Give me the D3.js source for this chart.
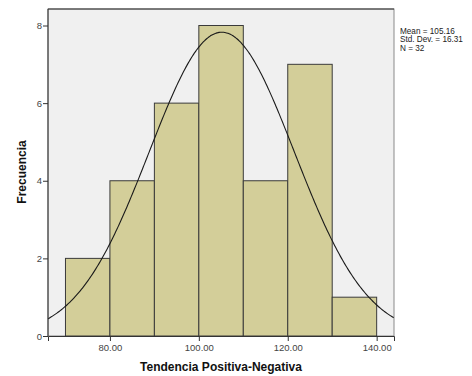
<!DOCTYPE html>
<html>
<head>
<meta charset="utf-8">
<script src="https://cdn.jsdelivr.net/npm/d3@7"></script>
<style>
  html, body { margin: 0; padding: 0; background: #ffffff; }
  svg { display: block; font-family: "Liberation Sans", Arial, sans-serif; }
</style>
</head>
<body>
<svg id="chart" width="472" height="376"></svg>
<script>
// Histogram bins (lower edge, upper edge) and counts
const binStarts = [70, 80, 90, 100, 110, 120, 130];
const binEnds = [80, 90, 100, 110, 120, 130, 140];
const counts = [2, 4, 6, 8, 4, 7, 1];

// Axis ticks
const xTicks = [80, 100, 120, 140];
const yTicks = [0, 2, 4, 6, 8];

// Summary statistics for the fitted normal curve
const statMean = 105.16;
const statSD = 16.31;
const statN = 32;
const binWidth = 10;

const svg = d3.select("#chart");
const plot = { left: 48, top: 9, right: 394, bottom: 336 };

const x = d3.scaleLinear().domain([66.07, 143.9]).range([plot.left, plot.right]);
const y = d3.scaleLinear().domain([0, 8]).range([plot.bottom, 25.5]);

// Plot background with light frame
svg.append("rect")
  .attr("x", plot.left).attr("y", plot.top)
  .attr("width", plot.right - plot.left).attr("height", plot.bottom - plot.top)
  .attr("fill", "#f0f0f0").attr("stroke", "#8a8a8a").attr("stroke-width", 1);
// Darker top edge of the frame
svg.append("line")
  .attr("x1", plot.left).attr("x2", plot.right)
  .attr("y1", plot.top).attr("y2", plot.top)
  .attr("stroke", "#333333").attr("stroke-width", 1);

// Bars
const bins = binStarts.map((s, i) => ({ x0: s, x1: binEnds[i], n: counts[i] }));
svg.append("g").selectAll("rect").data(bins).join("rect")
  .attr("x", d => x(d.x0))
  .attr("y", d => y(d.n))
  .attr("width", d => x(d.x1) - x(d.x0))
  .attr("height", d => y(0) - y(d.n))
  .attr("fill", "#d3ce99")
  .attr("stroke", "#3a3a3a")
  .attr("stroke-width", 1);

// Normal curve scaled to counts
const scale = statN * binWidth / (statSD * Math.sqrt(2 * Math.PI));
const curvePts = d3.range(x.domain()[0], x.domain()[1] + 0.01, 0.25)
  .map(v => [v, scale * Math.exp(-0.5 * Math.pow((v - statMean) / statSD, 2))]);
svg.append("path")
  .datum(curvePts)
  .attr("fill", "none")
  .attr("stroke", "#1a1a1a")
  .attr("stroke-width", 1.1)
  .attr("d", d3.line().x(d => x(d[0])).y(d => y(d[1])).curve(d3.curveBasis));

// Axes
const xAxis = svg.append("g")
  .attr("transform", `translate(0,${plot.bottom})`)
  .call(d3.axisBottom(x).tickValues(xTicks).tickFormat(d3.format(".2f")).tickSizeOuter(0).tickSize(5));
xAxis.select(".domain").attr("stroke", "#333333");
xAxis.selectAll(".tick line").attr("stroke", "#333333");
xAxis.selectAll(".tick text").attr("fill", "#444444").attr("font-size", 9.5).attr("dy", "0.75em")
  .attr("font-family", "Liberation Sans, Arial, sans-serif");

const yAxis = svg.append("g")
  .attr("transform", `translate(${plot.left},0)`)
  .call(d3.axisLeft(y).tickValues(yTicks).tickFormat(d3.format("d")).tickSizeOuter(0).tickSize(5));
yAxis.select(".domain").attr("d", `M0,${plot.bottom}V${plot.top}`).attr("stroke", "#333333");
yAxis.selectAll(".tick line").attr("stroke", "#333333");
yAxis.selectAll(".tick text").attr("fill", "#444444").attr("font-size", 9.5).attr("x", -6)
  .attr("font-family", "Liberation Sans, Arial, sans-serif");

// Axis titles
svg.append("text")
  .attr("x", 221).attr("y", 371)
  .attr("text-anchor", "middle")
  .attr("font-size", 12).attr("font-weight", "bold").attr("fill", "#111111")
  .text("Tendencia Positiva-Negativa");

svg.append("text")
  .attr("transform", "translate(26,172) rotate(-90)")
  .attr("text-anchor", "middle")
  .attr("font-size", 12).attr("font-weight", "bold").attr("fill", "#111111")
  .text("Frecuencia");

// Statistics legend
const stats = [
  "Mean = " + statMean.toFixed(2),
  "Std. Dev. = " + statSD.toFixed(2),
  "N = " + statN
];
svg.append("g").selectAll("text").data(stats).join("text")
  .attr("x", 400)
  .attr("y", (d, i) => 33.5 + i * 8.5)
  .attr("font-size", 8.2)
  .attr("fill", "#222222")
  .text(d => d);
</script>
</body>
</html>
